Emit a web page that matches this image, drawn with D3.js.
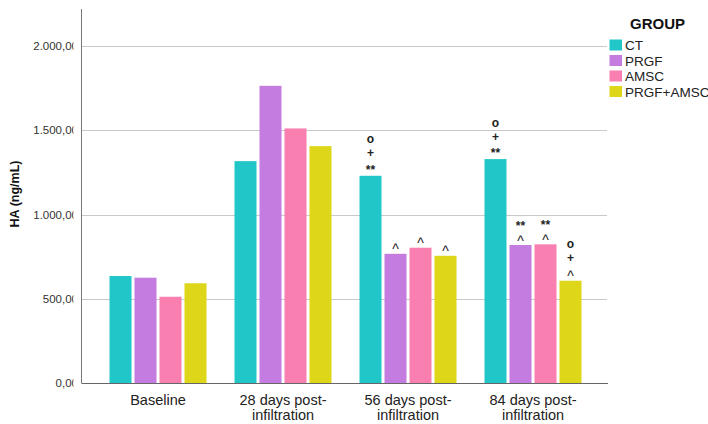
<!DOCTYPE html>
<html>
<head>
<meta charset="utf-8">
<script src="https://cdn.jsdelivr.net/npm/d3@7"></script>
<style>
  html, body { margin: 0; padding: 0; background: #fff; }
  svg { display: block; font-family: "Liberation Sans", Arial, sans-serif; }
</style>
</head>
<body>
<svg id="chart" width="708" height="424"></svg>
<script>
// ---- data ----
const categories = [["Baseline"], ["28 days post-", "infiltration"], ["56 days post-", "infiltration"], ["84 days post-", "infiltration"]];
const groups = ["CT", "PRGF", "AMSC", "PRGF+AMSC"];
const colors = ["#21c7c8", "#c47ce0", "#f87fb0", "#ded618"];
const valuesCT = [635, 1317, 1230, 1329];
const valuesPRGF = [625, 1764, 767, 819];
const valuesAMSC = [512, 1511, 803, 823];
const valuesPRGFAMSC = [592, 1406, 755, 607];
const yTicks = [0, 500, 1000, 1500, 2000];
const yTickLabels = ["0,00", "500,00", "1.000,00", "1.500,00", "2.000,00"];
// significance marks, stacked bottom to top above each bar [category][group]
const marks = [
  [[], [], [], []],
  [[], [], [], []],
  [["**", "+", "o"], ["^"], ["^"], ["^"]],
  [["**", "+", "o"], ["^", "**"], ["^", "**"], ["^", "+", "o"]]
];

const series = [valuesCT, valuesPRGF, valuesAMSC, valuesPRGFAMSC];

const svg = d3.select("#chart");
const x0 = 81.5, x1 = 609.5, yBottom = 383, yTop = 9;

const x = d3.scaleBand().domain(d3.range(categories.length)).range([x0, x1]).paddingInner(0).paddingOuter(0.112);
const xs = d3.scaleBand().domain(d3.range(groups.length)).range([14, 111]).paddingInner(0.12).paddingOuter(0);
const y = d3.scaleLinear().domain([0, 2220]).range([yBottom, yTop]);

// clip for tick labels (truncated like the original)
svg.append("defs").append("clipPath").attr("id", "tickclip")
  .append("rect").attr("x", 0).attr("y", 0).attr("width", 73.5).attr("height", 424);

// gridlines
svg.append("g").selectAll("line").data(yTicks.filter(d => d > 0)).join("line")
  .attr("x1", x0).attr("x2", 607)
  .attr("y1", d => Math.round(y(d)) + 0.5).attr("y2", d => Math.round(y(d)) + 0.5)
  .attr("stroke", "#c9c9c9").attr("stroke-width", 1);

// y axis via d3 (labels clipped like the original)
const gyWrap = svg.append("g").attr("clip-path", "url(#tickclip)");
const yAxis = d3.axisLeft(y).tickValues(yTicks).tickSize(0).tickPadding(0)
  .tickFormat((d, i) => yTickLabels[i]);
const gy = gyWrap.append("g").attr("transform", `translate(${x0},0)`).call(yAxis);
gy.select(".domain").remove();
gy.selectAll("text").attr("x", -3.5)
  .attr("font-size", 11.5).attr("fill", "#333").attr("font-family", "Liberation Sans, Arial, sans-serif");

// bars
const gBars = svg.append("g");
categories.forEach((c, ci) => {
  groups.forEach((g, gi) => {
    const v = series[gi][ci];
    gBars.append("rect")
      .attr("x", x(ci) + xs(gi))
      .attr("y", y(v))
      .attr("width", xs.bandwidth())
      .attr("height", y(0) - y(v))
      .attr("fill", colors[gi]);
  });
});

// axis lines
svg.append("line").attr("x1", x0).attr("x2", x0).attr("y1", yTop).attr("y2", yBottom)
  .attr("stroke", "#777").attr("stroke-width", 1);
svg.append("line").attr("x1", x0).attr("x2", 608).attr("y1", yBottom + 0.5).attr("y2", yBottom + 0.5)
  .attr("stroke", "#666").attr("stroke-width", 1);

// x axis labels via d3 axis
const xAxis = d3.axisBottom(x).tickSize(0).tickFormat("");
const gx = svg.append("g").attr("transform", `translate(0,${yBottom})`).call(xAxis);
gx.select(".domain").remove();
gx.selectAll(".tick").each(function(d) {
  const t = d3.select(this).append("text")
    .attr("text-anchor", "middle").attr("font-size", 14.5).attr("fill", "#222")
    .attr("font-family", "Liberation Sans, Arial, sans-serif");
  categories[d].forEach((line, li) => {
    t.append("tspan").attr("x", 0).attr("y", 22 + li * 14.5).text(line);
  });
});

// significance marks
const glyphOffset = { "**": 7, "+": 4, "o": 3.5, "^": 9.5 };
const gMarks = svg.append("g").attr("font-family", "Liberation Sans, Arial, sans-serif")
  .attr("fill", "#222").attr("text-anchor", "middle");
marks.forEach((row, ci) => {
  row.forEach((stack, gi) => {
    const cx = x(ci) + xs(gi) + xs.bandwidth() / 2;
    const top = y(series[gi][ci]);
    stack.forEach((m, k) => {
      const cy = top - 9 - k * 13.5;
      gMarks.append("text")
        .attr("x", cx).attr("y", cy + glyphOffset[m])
        .attr("font-size", m === "^" ? 14 : 12)
        .attr("font-weight", m === "^" ? "normal" : "bold")
        .text(m);
    });
  });
});

// y axis title
svg.append("text")
  .attr("transform", "translate(19,194) rotate(-90)")
  .attr("text-anchor", "middle").attr("font-size", 12.5).attr("font-weight", "bold").attr("fill", "#111")
  .text("HA (ng/mL)");

// legend
const lg = svg.append("g").attr("font-family", "Liberation Sans, Arial, sans-serif");
lg.append("text").attr("x", 657.5).attr("y", 28.5).attr("text-anchor", "middle")
  .attr("font-size", 15).attr("font-weight", "bold").attr("fill", "#111").text("GROUP");
groups.forEach((g, i) => {
  const yy = 39.5 + i * 15.5;
  lg.append("rect").attr("x", 609.5).attr("y", yy).attr("width", 12.5).attr("height", 11).attr("fill", colors[i]);
  lg.append("text").attr("x", 625).attr("y", yy + 10.5).attr("font-size", 13.5).attr("fill", "#222").text(g);
});
</script>
</body>
</html>
